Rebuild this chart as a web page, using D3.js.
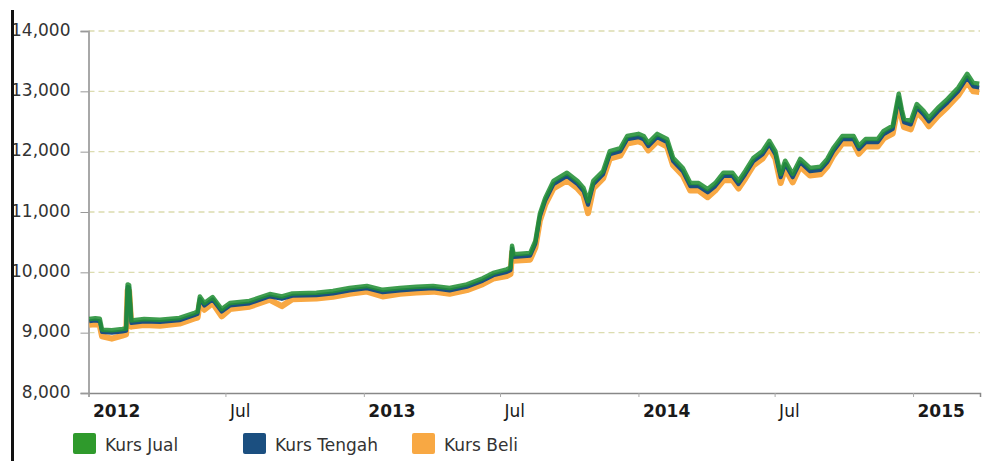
<!DOCTYPE html>
<html>
<head>
<meta charset="utf-8">
<script src="https://cdnjs.cloudflare.com/ajax/libs/d3/7.8.5/d3.min.js"></script>
<style>
  body { margin: 0; background: #fff; }
  svg { display: block; font-family: "DejaVu Sans", Verdana, sans-serif; }
</style>
</head>
<body>
<svg></svg>
<script>
// Kurs USD/IDR - dates and the three series
var dates = ["2012-01-02","2012-01-10","2012-01-16","2012-01-19","2012-02-01","2012-02-15","2012-02-20","2012-02-22","2012-02-24","2012-02-27",
  "2012-03-15","2012-04-05","2012-05-01","2012-05-21","2012-05-25","2012-05-28","2012-06-03","2012-06-14","2012-06-26","2012-07-07",
  "2012-08-02","2012-08-29","2012-09-14","2012-09-28","2012-10-30","2012-11-21","2012-12-13","2013-01-05","2013-01-26","2013-02-18",
  "2013-03-12","2013-04-03","2013-04-25","2013-05-18","2013-06-08","2013-06-22","2013-07-10","2013-07-15","2013-07-17","2013-07-19",
  "2013-07-24","2013-08-10","2013-08-17","2013-08-23","2013-08-30","2013-09-10","2013-09-28","2013-10-12","2013-10-20","2013-10-26",
  "2013-11-02","2013-11-15","2013-11-24","2013-12-08","2013-12-17","2014-01-01","2014-01-08","2014-01-14","2014-01-26","2014-02-08",
  "2014-02-16","2014-03-01","2014-03-11","2014-03-22","2014-04-03","2014-04-13","2014-04-24","2014-05-06","2014-05-14","2014-05-23",
  "2014-06-03","2014-06-15","2014-06-24","2014-07-02","2014-07-09","2014-07-15","2014-07-25","2014-08-04","2014-08-17","2014-08-31",
  "2014-09-09","2014-09-17","2014-09-29","2014-10-14","2014-10-21","2014-10-30","2014-11-15","2014-11-23","2014-12-05","2014-12-13",
  "2014-12-17","2014-12-20","2014-12-29","2015-01-06","2015-01-15","2015-01-22","2015-02-03","2015-02-16","2015-03-02","2015-03-14",
  "2015-03-22","2015-03-30"];

var kursJual = [9227, 9240, 9230, 9050, 9040, 9060, 9070, 9800, 9790, 9200,
  9225, 9215, 9245, 9330, 9350, 9600, 9490, 9590, 9390, 9490,
  9525, 9640, 9600, 9650, 9660, 9690, 9740, 9775, 9710, 9740,
  9760, 9775, 9740, 9800, 9900, 9990, 10050, 10080, 10440, 10300,
  10305, 10320, 10520, 10970, 11230, 11515, 11650, 11515, 11400, 11180,
  11515, 11680, 12010, 12060, 12260, 12295, 12260, 12145, 12295, 12210,
  11900, 11730, 11480, 11480, 11380, 11480, 11650, 11650, 11515, 11680,
  11900, 12010, 12180, 12010, 11630, 11850, 11630, 11880, 11730, 11750,
  11880, 12060, 12260, 12260, 12095, 12210, 12210, 12345, 12430, 12960,
  12700, 12545, 12510, 12790, 12675, 12560, 12725, 12875, 13060, 13290,
  13140, 13125];

var kursTengah = [9187, 9200, 9190, 9010, 9000, 9020, 9030, 9760, 9750, 9160,
  9185, 9175, 9205, 9290, 9310, 9560, 9450, 9550, 9350, 9450,
  9485, 9600, 9560, 9610, 9620, 9650, 9700, 9735, 9670, 9700,
  9720, 9735, 9700, 9760, 9860, 9950, 10005, 10035, 10395, 10255,
  10260, 10275, 10475, 10925, 11185, 11460, 11595, 11460, 11345, 11120,
  11460, 11625, 11955, 12005, 12205, 12240, 12205, 12090, 12240, 12155,
  11845, 11675, 11425, 11425, 11325, 11425, 11595, 11595, 11460, 11625,
  11845, 11955, 12125, 11955, 11575, 11795, 11575, 11825, 11675, 11695,
  11825, 12005, 12205, 12205, 12040, 12155, 12155, 12290, 12375, 12900,
  12640, 12485, 12450, 12730, 12615, 12500, 12665, 12815, 13000, 13230,
  13080, 13065];

var kursBeli = [9130, 9140, 9120, 8940, 8900, 8950, 8970, 9700, 9690, 9100,
  9125, 9115, 9150, 9235, 9250, 9500, 9380, 9490, 9270, 9390,
  9430, 9545, 9440, 9555, 9565, 9595, 9645, 9680, 9600, 9645,
  9665, 9680, 9645, 9705, 9805, 9895, 9940, 9970, 10330, 10190,
  10195, 10210, 10410, 10860, 11120, 11390, 11525, 11390, 11275, 10980,
  11390, 11555, 11885, 11935, 12135, 12170, 12135, 12020, 12170, 12085,
  11775, 11605, 11355, 11355, 11245, 11355, 11525, 11525, 11390, 11555,
  11775, 11885, 12055, 11885, 11480, 11725, 11490, 11755, 11605, 11625,
  11755, 11935, 12135, 12135, 11965, 12085, 12085, 12220, 12300, 12830,
  12560, 12405, 12370, 12660, 12545, 12420, 12590, 12745, 12930, 13160,
  13000, 12990];

var yTicks = [8000, 9000, 10000, 11000, 12000, 13000, 14000];
var xTicks = ["2012-01-01", "2012-07-01", "2013-01-01", "2013-07-01", "2014-01-01", "2014-07-01", "2015-01-01"];
var xTickLabels = ["2012", "Jul", "2013", "Jul", "2014", "Jul", "2015"];

var seriesNames = ["Kurs Jual", "Kurs Tengah", "Kurs Beli"];
var seriesColors = ["#2f9a2c", "#1b4f80", "#f8a843"];

var svgWidth = 995, svgHeight = 461;
var plotLeft = 88.5, plotRight = 980, plotTop = 31, plotBottom = 393;

var parseDate = d3.timeParse("%Y-%m-%d");

var svg = d3.select("svg")
    .attr("width", svgWidth)
    .attr("height", svgHeight);

var xScale = d3.scaleTime()
    .domain([parseDate("2012-01-01"), parseDate("2015-03-31")])
    .range([plotLeft, plotRight]);

var yScale = d3.scaleLinear()
    .domain([8000, 14000])
    .range([plotBottom, plotTop]);

// dashed grid lines
svg.append("g")
    .selectAll("line")
    .data(yTicks.slice(1))
    .enter()
    .append("line")
    .attr("x1", plotLeft).attr("x2", plotRight)
    .attr("y1", function (d) { return yScale(d); })
    .attr("y2", function (d) { return yScale(d); })
    .attr("stroke", "#dcdcb0")
    .attr("stroke-width", 1.3)
    .attr("stroke-dasharray", "6,4");

// y axis
var y_axis = d3.axisLeft(yScale)
    .tickValues(yTicks)
    .tickSize(8)
    .tickPadding(10)
    .tickFormat(d3.format(","));

var gy = svg.append("g")
    .attr("transform", "translate(" + plotLeft + ",0)")
    .call(y_axis);
gy.select(".domain").attr("stroke", "#a8a8a8").attr("stroke-width", 2);
gy.selectAll(".tick line").attr("stroke", "#999");
gy.selectAll(".tick text")
    .attr("fill", "#333")
    .attr("font-size", 17)
    .attr("font-family", "DejaVu Sans, Verdana, sans-serif")
    .attr("dy", "0.25em");

// x axis
var x_axis = d3.axisBottom(xScale)
    .tickValues(xTicks.map(parseDate))
    .tickSize(4)
    .tickFormat(function (d, i) { return xTickLabels[i]; });

var gx = svg.append("g")
    .attr("transform", "translate(0," + plotBottom + ")")
    .call(x_axis);
gx.select(".domain").attr("stroke", "#888").attr("stroke-width", 1.5);
gx.selectAll(".tick line").attr("stroke", "#aaa");
gx.selectAll(".tick text")
    .attr("fill", "#1a1a1a")
    .attr("font-size", 17)
    .attr("font-family", "DejaVu Sans, Verdana, sans-serif")
    .attr("font-weight", function (d, i) { return xTickLabels[i] === "Jul" ? "normal" : "bold"; })
    .attr("text-anchor", "start")
    .attr("x", 4)
    .attr("y", 12)
    .attr("dy", "0.71em");

// the three lines, Beli at the back and Jual on top
var line = d3.line()
    .x(function (d) { return xScale(d.date); })
    .y(function (d) { return yScale(d.value); });

function toPoints(values) {
    return dates.map(function (s, i) { return { date: parseDate(s), value: values[i] }; });
}

var lineData = [
    { values: kursBeli, color: seriesColors[2], width: 6, opacity: 1 },
    { values: kursTengah, color: seriesColors[1], width: 4, opacity: 1 },
    { values: kursJual, color: "#238f35", width: 4.5, opacity: 0.88 }
];

svg.append("g")
    .selectAll("path")
    .data(lineData)
    .enter()
    .append("path")
    .attr("d", function (d) { return line(toPoints(d.values)); })
    .attr("fill", "none")
    .attr("stroke", function (d) { return d.color; })
    .attr("stroke-width", function (d) { return d.width; })
    .attr("stroke-opacity", function (d) { return d.opacity; })
    .attr("stroke-linejoin", "round");

// black border line on the far left (drawn over the first digit of the labels)
svg.append("line")
    .attr("x1", 12.5).attr("x2", 12.5)
    .attr("y1", 10).attr("y2", svgHeight)
    .attr("stroke", "#111")
    .attr("stroke-width", 3);

// legend
var legendX = [73, 243, 412];
var legend = svg.append("g")
    .selectAll("g")
    .data(seriesNames)
    .enter()
    .append("g")
    .attr("transform", function (d, i) { return "translate(" + legendX[i] + ",433)"; });

legend.append("rect")
    .attr("width", 23)
    .attr("height", 21)
    .attr("rx", 2)
    .attr("fill", function (d, i) { return seriesColors[i]; });

legend.append("text")
    .attr("x", 32)
    .attr("y", 18)
    .attr("fill", "#333")
    .attr("font-size", 17)
    .text(function (d) { return d; });
</script>
</body>
</html>
